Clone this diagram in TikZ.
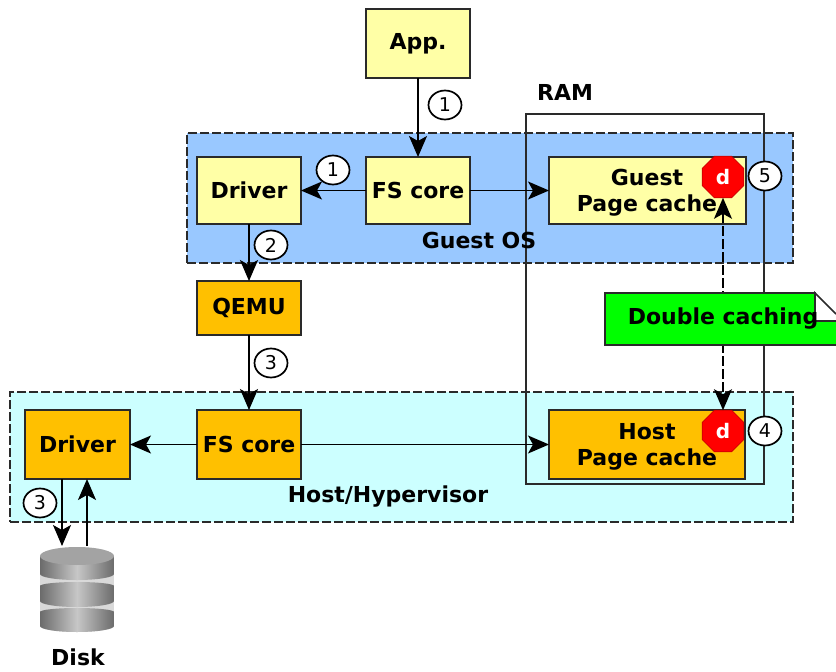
\documentclass[tikz,border=0pt]{standalone}
\usepackage{fontspec}
\setmainfont{DejaVu Sans}
\usetikzlibrary{arrows.meta,shapes.geometric,calc}
\definecolor{boxyellow}{HTML}{FFFFA6}
\definecolor{boxorange}{HTML}{FFC000}
\definecolor{guestblue}{HTML}{99C8FF}
\definecolor{hostcyan}{HTML}{CCFFFF}
\definecolor{linegray}{HTML}{2A2A2A}
\tikzset{
  every node/.style={font=\fontsize{22}{26}\selectfont\bfseries,outer sep=0pt},
  region/.style={draw=linegray,line width=1.6pt,dash pattern=on 9pt off 3pt,inner sep=0pt,anchor=north west},
  box/.style={draw=linegray,line width=1.8pt,inner sep=0pt,align=center,anchor=north west},
  yellowbox/.style={box,fill=boxyellow},
  orangebox/.style={box,fill=boxorange},
  conn/.style={draw=black,line width=1.5pt,-{Stealth[length=21pt,width=18pt,inset=5pt]}},
  dconn/.style={draw=black,line width=1.3pt,dash pattern=on 10pt off 3pt,{Stealth[length=21pt,width=18pt,inset=5pt]}-{Stealth[length=21pt,width=18pt,inset=5pt]}},
  step num/.style={draw=black,fill=white,ellipse,line width=1.7pt,minimum width=33pt,minimum height=29pt,inner sep=0pt,font=\fontsize{19}{22}\selectfont},
  plainlabel/.style={inner sep=0pt},
  stopsign/.style={regular polygon,regular polygon sides=8,fill=red,draw=red!80!black,line width=.8pt,minimum size=45pt,inner sep=0pt,text=white,font=\fontsize{20}{22}\selectfont\bfseries},
  drum/.style={left color=black!58,right color=black!58,middle color=black!22,shading angle=90},
}
\begin{document}
\begin{tikzpicture}[x=1pt,y=-1pt]
\useasboundingbox (0,0) rectangle (836,672);
% regions
\node[region,fill=guestblue,minimum width=606pt,minimum height=130pt] (guest) at (187,133) {};
\node[region,fill=hostcyan,minimum width=783pt,minimum height=130pt] (host) at (10,392) {};
% RAM
\coordinate (ramtl) at (526,114);
\coordinate (rambr) at (764,484);
\draw[linegray,line width=1.6pt] (ramtl) rectangle (rambr);
% boxes
\node[yellowbox,minimum width=104pt,minimum height=69pt] (app) at (366,9) {App.};
\node[yellowbox,minimum width=104pt,minimum height=67pt] (fsg) at (366,157) {FS core};
\node[yellowbox,minimum width=104pt,minimum height=67pt] (drvg) at (197,157) {Driver};
\node[yellowbox,minimum width=197pt,minimum height=67pt] (pcg) at (549,157) {};
\node[plainlabel,align=center] (pcgl) at (647,193) {Guest\\Page cache};
\node[orangebox,minimum width=104pt,minimum height=54pt] (qemu) at (197,281) {QEMU};
\node[orangebox,minimum width=105pt,minimum height=69pt] (drvh) at (25,410) {Driver};
\node[orangebox,minimum width=104pt,minimum height=69pt] (fsh) at (197,410) {FS core};
\node[orangebox,minimum width=196pt,minimum height=69pt] (pch) at (549,410) {};
\node[plainlabel,align=center] (pchl) at (647,447) {Host\\Page cache};
% labels
\node[plainlabel] (lguest) at (479,240) {Guest OS};
\node[plainlabel] (lhost) at (388,497) {Host/Hypervisor};
\node[plainlabel] (lram) at (565,92) {RAM};
\node[plainlabel] (ldisk) at (78,657) {Disk};
% disk
\node[inner sep=0pt,minimum width=74pt,minimum height=86pt] (disk) at (77,589) {};
\fill[black!15] (40,560) rectangle (114,626);
\fill[black!15] (77,626) ellipse[x radius=37,y radius=6];
\path[drum] (40,556) -- (114,556) -- (114,574) arc[start angle=0,end angle=180,x radius=37,y radius=6] -- cycle;
\fill[black!36] (77,556) ellipse[x radius=37,y radius=9];
\path[drum] (40,586) arc[start angle=180,end angle=360,x radius=37,y radius=4] -- (114,601) arc[start angle=0,end angle=180,x radius=37,y radius=6] -- cycle;
\path[drum] (40,612) arc[start angle=180,end angle=360,x radius=37,y radius=4] -- (114,626) arc[start angle=0,end angle=180,x radius=37,y radius=6] -- cycle;
% stop signs
\node[stopsign] (dg) at (723,177) {d};
\node[stopsign] (dh) at (723,431) {d};
% connectors
\coordinate (dl) at (62,0);
\coordinate (ul) at (87,0);
\draw[conn] (app) -- (fsg);
\draw[conn] (fsg) -- (drvg);
\draw[conn] (fsg) -- (pcg.west);
\draw[conn] (drvg) -- (qemu);
\draw[conn] (qemu) -- (fsh);
\draw[conn] (fsh) -- (drvh);
\draw[conn] (fsh) -- (pch.west);
\draw[conn] (drvh.south -| dl) -- (disk.north -| dl);
\draw[conn] (disk.north -| ul) -- (drvh.south -| ul);
\draw[dconn] (dg.south) -- (dh.north);
% note
\fill[green] (605,293) -- (815,293) -- (815,321) -- (836,321) -- (836,345) -- (605,345) -- cycle;
\draw[linegray,line width=1.6pt] (836,321) -- (815,321) -- (815,293) -- (605,293) -- (605,345) -- (836,345);
\fill[white] (815,293) -- (836,314) -- (836,321) -- (815,321) -- cycle;
\draw[linegray,line width=1.6pt] (836,321) -- (815,321) -- (815,293) -- (836,314);
\node[plainlabel] (note) at (723,319) {Double caching};
% step numbers
\node[step num] (s1a) at (445,105) {1};
\node[step num] (s1b) at (333,170) {1};
\node[step num] (s2) at (271,245) {2};
\node[step num] (s3a) at (271,363) {3};
\node[step num] (s3b) at (40,503) {3};
\node[step num] (s4) at (765,431) {4};
\node[step num] (s5) at (765,176) {5};
\end{tikzpicture}
\end{document}
